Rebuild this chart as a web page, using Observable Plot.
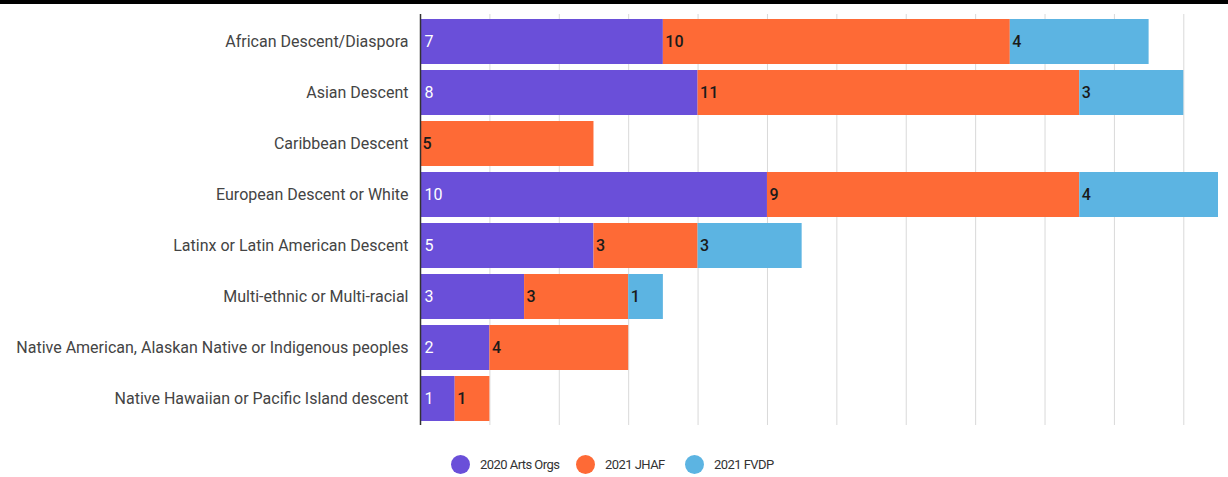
<!DOCTYPE html>
<html>
<head>
<meta charset="utf-8">
<script src="https://cdn.jsdelivr.net/npm/d3@7"></script>
<script src="https://cdn.jsdelivr.net/npm/@observablehq/plot@0.6"></script>
<style>
  html, body { margin: 0; padding: 0; background: #fff; }
  body { width: 1228px; height: 477px; overflow: hidden; font-family: Roboto, sans-serif; }
  #topbar { height: 4px; background: #000; }
  #legend { position: relative; height: 30px; margin-top: 18px; }
  .item { position: absolute; top: 0; display: flex; align-items: center; font-family: Roboto, sans-serif; font-size: 13px; letter-spacing: -0.55px; color: #333; }
  .dot { width: 19px; height: 19px; border-radius: 50%; margin-right: 10px; }
</style>
</head>
<body>
<div id="topbar"></div>
<div id="chart"></div>
<div id="legend"></div>
<script>
const categories = [
  "African Descent/Diaspora",
  "Asian Descent",
  "Caribbean Descent",
  "European Descent or White",
  "Latinx or Latin American Descent",
  "Multi-ethnic or Multi-racial",
  "Native American, Alaskan Native or Indigenous peoples",
  "Native Hawaiian or Pacific Island descent"
];
const seriesNames = ["2020 Arts Orgs", "2021 JHAF", "2021 FVDP"];
const arts2020 = [7, 8, 0, 10, 5, 3, 2, 1];
const jhaf2021 = [10, 11, 5, 9, 3, 3, 4, 1];
const fvdp2021 = [4, 3, 0, 4, 3, 1, 0, 0];
const colors = ["#6a4fd9", "#fe6a36", "#5cb4e2"];
const gridTicks = [2, 4, 6, 8, 10, 12, 14, 16, 18, 20, 22];

const seriesValues = [arts2020, jhaf2021, fvdp2021];
const data = [];
categories.forEach((c, i) => {
  seriesNames.forEach((s, j) => {
    const v = seriesValues[j][i];
    if (v > 0) data.push({category: c, series: s, value: v});
  });
});

const stackOpts = {x: "value", y: "category", z: "series", order: seriesNames};

const chart = Plot.plot({
  width: 1228,
  height: 433,
  marginTop: 10,
  marginBottom: 12,
  marginLeft: 420,
  marginRight: 10,
  style: {fontFamily: "Roboto, sans-serif", background: "#fff"},
  x: {domain: [0, 23], axis: null},
  y: {domain: categories, paddingInner: 0.12, paddingOuter: 0.06, label: null},
  color: {domain: seriesNames, range: colors},
  marks: [
    Plot.gridX(gridTicks, {stroke: "#d9d9d9", strokeOpacity: 1}),
    Plot.barX(data, Plot.stackX({...stackOpts, fill: "series"})),
    Plot.text(data, Plot.stackX1({...stackOpts, text: d => d.series === seriesNames[0] ? d.value : null, textAnchor: "start", dx: 4, fill: "#fff", fontSize: 16})),
    Plot.text(data, Plot.stackX1({...stackOpts, text: d => d.series !== seriesNames[0] ? d.value : null, textAnchor: "start", dx: 2, fill: "#1a1a1a", fontSize: 16, fontWeight: 500})),
    Plot.axisY({tickSize: 0, tickPadding: 12, fontSize: 16, color: "#444", label: null}),
    Plot.ruleX([0], {stroke: "#333", strokeWidth: 1.5})
  ]
});
document.getElementById("chart").appendChild(chart);

const legend = document.getElementById("legend");
const legendLeft = [451, 576, 685];
seriesNames.forEach((s, i) => {
  const item = document.createElement("div");
  item.className = "item";
  item.style.left = legendLeft[i] + "px";
  const dot = document.createElement("span");
  dot.className = "dot";
  dot.style.background = colors[i];
  const label = document.createElement("span");
  label.textContent = s;
  item.appendChild(dot);
  item.appendChild(label);
  legend.appendChild(item);
});
</script>
</body>
</html>
